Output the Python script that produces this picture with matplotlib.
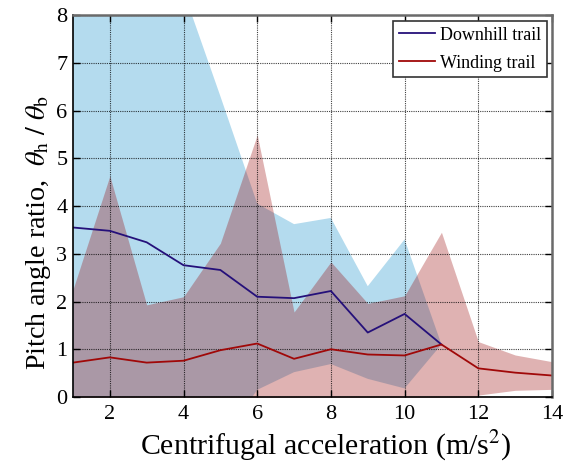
import numpy as np
import matplotlib
matplotlib.use("Agg")
import matplotlib.pyplot as plt

plt.rcParams['font.family'] = ['Liberation Serif', 'DejaVu Serif']
plt.rcParams['mathtext.fontset'] = 'stix'

# Downhill trail: mean and std per centrifugal acceleration bin
x_down = [1, 2, 3, 4, 5, 6, 7, 8, 9, 10, 11]
down_mean = [3.55, 3.48, 3.24, 2.76, 2.66, 2.10, 2.07, 2.22, 1.35, 1.74, 1.10]
down_std = [5.5, 6.0, 5.2, 5.74, 3.64, 1.95, 1.55, 1.53, 0.97, 1.56, 0.0]

# Winding trail
x_wind = [1, 2, 3, 4, 5, 6, 7, 8, 9, 10, 11, 12, 13, 14]
wind_mean = [0.72, 0.83, 0.72, 0.76, 0.98, 1.12, 0.80, 1.00, 0.89, 0.87, 1.10, 0.60, 0.51, 0.45]
wind_std = [1.53, 3.80, 1.21, 1.34, 2.24, 4.37, 0.98, 1.83, 1.07, 1.25, 2.35, 0.56, 0.37, 0.29]

xticks = [2, 4, 6, 8, 10, 12, 14]
yticks = [0, 1, 2, 3, 4, 5, 6, 7, 8]

fig = plt.figure(figsize=(5.71, 4.62), dpi=100)
ax = fig.add_axes([0.1278, 0.1407, 0.9667 - 0.1278, 0.9675 - 0.1407])

xd = np.array(x_down); md = np.array(down_mean); sd = np.array(down_std)
xw = np.array(x_wind); mw = np.array(wind_mean); sw = np.array(wind_std)

ax.fill_between(xd, md - sd, md + sd, color='#b4dbee', lw=0, zorder=1)
ax.fill_between(xw, mw - sw, mw + sw, color='#960000', alpha=0.3, lw=0, zorder=1.1)

ax.plot(xd, md, color='#25107a', lw=1.3, zorder=3, label='Downhill trail')
ax.plot(xw, mw, color='#a00808', lw=1.3, zorder=3, label='Winding trail')

ax.set_xlim(1, 14)
ax.set_ylim(0, 8)
ax.set_xticks(xticks)
ax.set_yticks(yticks)
ax.set_axisbelow(False)
ax.grid(True, color='black', linestyle=(0, (1, 1)), lw=0.8, alpha=0.75, zorder=2.5)
ax.tick_params(direction='in', length=5, width=1, top=True, right=True,
               labelsize=16, colors='black')
ax.tick_params(axis='x', pad=6)
ax.tick_params(axis='y', pad=4)

for s in ['left', 'bottom']:
    ax.spines[s].set_color('black')
    ax.spines[s].set_linewidth(1.2)
for s in ['top', 'right']:
    ax.spines[s].set_color('#6a6a6a')
    ax.spines[s].set_linewidth(1.8)
for sp in ax.spines.values():
    sp.set_zorder(4)

ax.set_xlabel('Centrifugal acceleration (m/s$^2$)', fontsize=21.5, labelpad=3.5)
ax.set_ylabel(r'Pitch angle ratio,  $\theta_{\mathrm{h}}\ /\ \theta_{\mathrm{b}}$',
              fontsize=20.2, labelpad=2.5)
ax.xaxis.label.set_x(0.528)
ax.yaxis.label.set_y(0.43)

leg = ax.legend(loc='upper right', bbox_to_anchor=(0.99, 0.985), borderaxespad=0,
                fontsize=13, fancybox=False, framealpha=1, edgecolor='#333333',
                handlelength=2.0, handletextpad=0.3, labelspacing=0.62, borderpad=0.32)
leg.get_frame().set_linewidth(1.2)
leg.set_zorder(5)

fig.savefig('out.png', dpi=100)
